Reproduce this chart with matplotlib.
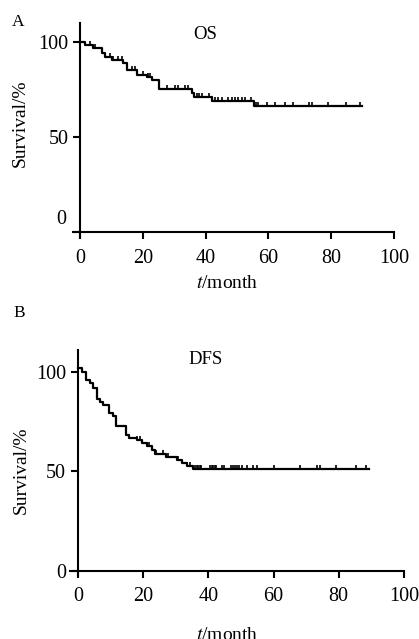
import matplotlib
matplotlib.use("Agg")
import matplotlib.pyplot as plt
import numpy as np

plt.rcParams["font.family"] = "Liberation Serif"
plt.rcParams["mathtext.fontset"] = "stix"

# OS curve (months, survival %)
os_times = [0, 1.6, 4, 6.9, 8, 10.1, 13.8, 14.9, 18, 21.2, 22.8, 25, 35.6, 36.3, 41.9, 55.3, 89.7]
os_surv = [100, 98.4, 96.7, 94.4, 92.3, 90.5, 88.8, 85.3, 82.6, 81.8, 80, 75.3, 73, 70.9, 69.1, 66.3, 66.3]
os_censor = [3.2, 4.6, 9.5, 10.6, 12.2, 13.3, 16.4, 17.5, 20.2, 21.5, 22.4, 27.6, 30.3, 31.3, 33.4, 34.5,
             37.2, 38, 38.9, 41.2, 43, 44, 45.1, 47.2, 48.3, 49.4, 50.4, 51.5, 52.5, 54.4,
             55.9, 56.8, 59.5, 62.1, 65.3, 67.9, 73, 73.8, 79.1, 84.9, 89.2]

# DFS curve
dfs_times = [0, 1.1, 2.5, 3.7, 4.7, 5.7, 6.7, 7.8, 9.6, 10.6, 11.7, 14.7, 15.7, 18, 19.5, 21.1,
             22.6, 23.6, 27, 30.3, 32, 33.3, 35.4, 89.4]
dfs_surv = [101.8, 99.9, 95.7, 94.3, 92, 86.4, 84.7, 83.1, 79.2, 77.5, 72.5, 68, 66.8, 65.5, 64.1,
            62.6, 60.4, 58.4, 57, 55.7, 54, 52.7, 51, 51]
dfs_censor = [18, 19, 21.1, 21.8, 24, 26.2, 27.7, 30.7, 33.3, 34.4, 35.9, 36.4, 36.9, 37.4, 37.9,
              40.5, 41, 41.5, 42, 42.5, 44.1, 44.8, 47.1, 47.7, 48.3, 48.9, 49.5, 50.2, 51.9,
              53.8, 54.8, 60.1, 68.1, 73.4, 74.2, 79.1, 85.3, 88.5]

xticks = [0, 20, 40, 60, 80, 100]
yticks = [0, 50, 100]


def km_panel(ax, times, surv, censor, label, label_xy, xlim, ylim):
    ax.step(times, surv, where="post", color="black", lw=1.6)
    idx = np.searchsorted(times, censor, side="right") - 1
    cy = np.asarray(surv)[idx]
    ax.plot(censor, cy, ls="none", marker=2, color="black", ms=3.2, mew=1.2)
    ax.set_xlim(*xlim)
    ax.set_ylim(*ylim)
    ax.spines["left"].set_position(("data", 0))
    ax.spines["bottom"].set_position(("data", 0))
    for s in ("top", "right"):
        ax.spines[s].set_visible(False)
    for s in ("left", "bottom"):
        ax.spines[s].set_linewidth(1.5)
    ax.set_xticks(xticks)
    ax.set_yticks(yticks)
    ax.tick_params(axis="x", direction="out", length=5, width=1.5, labelsize=14.5, pad=7)
    ax.tick_params(axis="y", direction="out", length=5, width=1.5, labelsize=14.5, pad=3.5)
    ax.text(label_xy[0], label_xy[1], label, fontsize=13.5, ha="center", va="center")
    ax.set_ylabel("Survival/%", fontsize=14)
    ax.set_xlabel(r"$t$/month", fontsize=14)


fig = plt.figure(figsize=(4.19, 6.39), dpi=100)

ax1 = fig.add_axes([0.174, 0.628, 0.766, 0.336])
km_panel(ax1, os_times, os_surv, os_censor, "OS", (40, 104), (-2.3, 100), (-3, 110))
ax1.yaxis.set_label_coords(-0.137, 0.534)
ax1.xaxis.set_label_coords(0.48, -0.175)
# the "0" label of panel A sits a little above the axis in the original
ax1.set_yticks(yticks, ["", "50", "100"])
ax1.annotate("0", xy=(0, 0), xycoords="data", xytext=(-10, 9), textcoords="offset points",
             ha="right", va="center", fontsize=14.5, annotation_clip=False)

ax2 = fig.add_axes([0.167, 0.0994, 0.797, 0.353])
km_panel(ax2, dfs_times, dfs_surv, dfs_censor, "DFS", (39.3, 106), (-2.45, 100), (-2.5, 111))
ax2.yaxis.set_label_coords(-0.12, 0.466)
ax2.xaxis.set_label_coords(0.47, -0.228)

fig.text(0.043, 0.965, "A", fontsize=12.5, ha="center", va="center")
fig.text(0.045, 0.51, "B", fontsize=12.5, ha="center", va="center")

fig.savefig("out.png", dpi=100)
